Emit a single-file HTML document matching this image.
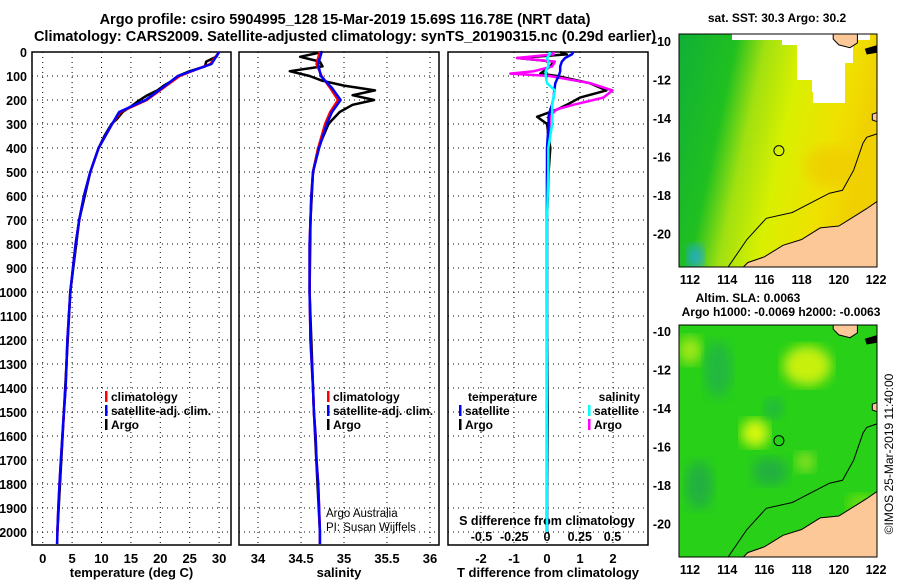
<!DOCTYPE html>
<html><head><meta charset="utf-8"><style>
body{margin:0;background:#fff;}
svg{display:block;font-family:"Liberation Sans",sans-serif;font-weight:bold;}
</style></head><body>
<svg id="c" width="900" height="580" viewBox="0 0 900 580">
<text x="345" y="24" font-size="14.5" text-anchor="middle">Argo profile: csiro 5904995_128 15-Mar-2019 15.69S 116.78E (NRT data)</text>
<text x="345" y="41" font-size="14.5" text-anchor="middle">Climatology: CARS2009. Satellite-adjusted climatology: synTS_20190315.nc (0.29d earlier)</text>
<g id="g"></g>
</svg>
<script>
const depthTicks=[0,100,200,300,400,500,600,700,800,900,1000,1100,1200,1300,1400,1500,1600,1700,1800,1900,2000];
const tempTicks=[0,5,10,15,20,25,30];
const salTicks=[34,34.5,35,35.5,36];
const tdTicks=[-2,-1,0,1,2];
const sdTicks=[-0.5,-0.25,0,0.25,0.5];
const sdTickLabels=["-0.5","-0.25","0","0.25","0.5"];
const climDepth=[0,50,100,150,200,250,300,400,500,600,700,800,1000,1200,1400,1500,1600,1700,1800,1900,2000,2050];
const climTemp=[30,28.5,23.3,20.5,17.7,13.2,11.8,9.5,8.1,7.0,6.2,5.6,4.7,4.2,3.9,3.6,3.35,3.1,2.85,2.65,2.5,2.45];
const satTemp=[30,28.7,23.0,20.3,17.5,13.0,11.8,9.5,8.1,7.0,6.2,5.6,4.7,4.2,3.9,3.6,3.35,3.1,2.85,2.65,2.5,2.45];
const argoDepth=[0,20,40,60,80,100,120,140,160,180,200,220,250,280,300,350,400,500,700,1000,1500,2000];
const argoTemp=[30,29.5,27.8,27.6,25,23,22,20.6,19.5,17.8,16.5,15.4,13.6,12.6,11.7,10.5,9.5,8.1,6.2,4.7,3.6,2.5];
const climSal=[34.72,34.68,34.74,34.84,34.93,34.84,34.78,34.70,34.64,34.62,34.61,34.60,34.60,34.61,34.64,34.65,34.67,34.68,34.70,34.71,34.72,34.72];
const satSal=[34.74,34.70,34.73,34.86,34.96,34.86,34.80,34.71,34.64,34.62,34.61,34.60,34.60,34.61,34.64,34.65,34.67,34.68,34.70,34.71,34.72,34.72];
const argoSal=[34.75,34.49,34.72,34.75,34.37,34.6,34.75,35.0,35.36,35.1,35.35,35.1,34.95,34.87,34.82,34.76,34.70,34.64,34.61,34.60,34.65,34.72];
const dDepth=[0,10,25,40,60,80,90,100,130,160,190,220,240,270,300,400,500,700,1000,1500,2000];
const tSatDiff=[0.8,0.75,0.55,0.45,0.4,0.4,0.38,0.35,0.25,0.22,0.2,0.15,0.1,0.05,0.05,0,0,0,0,0,0];
const tArgoDiff=[0.4,0.6,-0.9,0.2,0.1,-0.1,-0.2,0.3,1.3,1.8,1.0,0.6,0.3,-0.3,0,0.1,0.05,0,0,0.02,0];
const sSatDiff=[0.02,0.02,0.0,0.01,0.01,-0.01,-0.01,-0.01,0.0,0.06,0.05,0.04,0.04,0.04,0.04,0.01,0.01,0,0,0,0];
const sArgoDiff=[0.05,0.05,-0.23,0.06,0.04,-0.1,-0.28,0.02,0.33,0.5,0.43,0.2,0.07,0.02,0.02,0.01,0,0,0,0,0];
const mapLonTicks=[112,114,116,118,120,122];
const mapLatTicks=[-10,-12,-14,-16,-18,-20];
const floatLon=116.78, floatLat=-15.69;

const NS="http://www.w3.org/2000/svg";
const G=document.getElementById('g');
function el(t,a,p){const e=document.createElementNS(NS,t);for(const k in a)e.setAttribute(k,a[k]);(p||G).appendChild(e);return e;}
const pTop=52,pBot=545;
const yD=d=>pTop+d*0.24;
function panel(x0,x1,name,xs,xt,xl,title){
  const r=el('rect',{x:x0,y:pTop,width:x1-x0,height:pBot-pTop,fill:'none',stroke:'#000','stroke-width':1.5});
  
  
  depthTicks.forEach(d=>{
    const l=el('line',{x1:x0,x2:x1,y1:yD(d),y2:yD(d),stroke:'#000','stroke-dasharray':'1,4'});
    
    
  });
  xt.forEach((v,i)=>{
    const X=xs(v);
    const l=el('line',{x1:X,x2:X,y1:pTop,y2:pBot,stroke:'#000','stroke-dasharray':'1,4'});
    
    
    const t=el('text',{x:X,y:563,'font-size':13,'text-anchor':'middle'});t.textContent=xl[i];
    
    
  });
  const t=el('text',{x:(x0+x1)/2,y:577,'font-size':13,'text-anchor':'middle'});t.textContent=title;
  
  
}
function line(xs,xv,dv,color,w,name){
  const pts=xv.map((v,i)=>xs(v).toFixed(1)+','+yD(dv[i]).toFixed(1)).join(' ');
  const p=el('polyline',{points:pts,fill:'none',stroke:color,'stroke-width':w,'stroke-linejoin':'round'});
  
  
}
function txt(x,y,s,fs,name,anchor,weight){const t=el('text',{x:x,y:y,'font-size':fs,'text-anchor':anchor||'start','font-weight':weight||'bold'});t.textContent=s;
  
  return t;}
function legend(x,y,color,label){
  const r=el('rect',{x:x,y:y-10,width:2.5,height:11,fill:color});
  
  
  txt(x+6,y,label,12,'legend-entry');
}
depthTicks.forEach(d=>{txt(27,yD(d)+5,String(d),12.5,'depth-tick-label','end');});
const xT=v=>42.7+v*5.88;
panel(32,231,'temperature-panel',xT,tempTicks,tempTicks.map(String),'temperature (deg C)');
line(xT,argoTemp,argoDepth,'#000',2.5,'argo-temperature-line');
line(xT,climTemp,climDepth,'#f00',2.5,'climatology-temperature-line');
line(xT,satTemp,climDepth,'#00f',2.5,'satellite-temperature-line');
legend(105,401,'#f00','climatology');legend(105,415,'#00f','satellite-adj. clim.');legend(105,429,'#000','Argo');
const xS=v=>258+(v-34)*86;
panel(239,439,'salinity-panel',xS,salTicks,salTicks.map(String),'salinity');
line(xS,argoSal,argoDepth,'#000',2.5,'argo-salinity-line');
line(xS,climSal,climDepth,'#f00',2.5,'climatology-salinity-line');
line(xS,satSal,climDepth,'#00f',2.5,'satellite-salinity-line');
legend(327,401,'#f00','climatology');legend(327,415,'#00f','satellite-adj. clim.');legend(327,429,'#000','Argo');
txt(326,517,'Argo Australia',11.5,'credit-argo-australia','start','normal');
txt(326,531,'PI: Susan Wijffels',11.5,'credit-pi','start','normal');
const xTd=v=>547+v*33, xSd=v=>547+v*131;
panel(448,648,'difference-panel',xTd,tdTicks,tdTicks.map(String),'T difference from climatology');
sdTicks.forEach((v,i)=>{txt(xSd(v),541,sdTickLabels[i],12.5,'s-diff-tick-label','middle');});
txt(547,525,'S difference from climatology',12.5,'s-diff-axis-title','middle');
line(xTd,tArgoDiff,dDepth,'#000',2.5,'argo-temperature-diff-line');
line(xSd,sArgoDiff,dDepth,'#f0f',2.5,'argo-salinity-diff-line');
line(xTd,tSatDiff,dDepth,'#00f',2.5,'satellite-temperature-diff-line');
line(xSd,sSatDiff,dDepth,'#0ff',2.5,'satellite-salinity-diff-line');
txt(468,401,'temperature',12,'legend-title-temperature');
txt(640,401,'salinity',12,'legend-title-salinity','end');
legend(459,415,'#00f','satellite');legend(459,429,'#000','Argo');
legend(588,415,'#0ff','satellite');legend(588,429,'#f0f','Argo');
const defs=el('defs',{});
defs.innerHTML='<linearGradient id="sst" x1="0" x2="1" y1="0" y2="0.25"><stop offset="0" stop-color="#10b038"/><stop offset="0.28" stop-color="#20c020"/><stop offset="0.42" stop-color="#a0e010"/><stop offset="0.6" stop-color="#d8f000"/><stop offset="0.85" stop-color="#f0e000"/><stop offset="1" stop-color="#f0d000"/></linearGradient><filter id="bl"><feGaussianBlur stdDeviation="6"/></filter><clipPath id="m1"><rect x="679" y="34" width="198" height="233"/></clipPath><clipPath id="m2"><rect x="679" y="325" width="198" height="232"/></clipPath>';
function map(y0,name,clip){
  const lx=lon=>690+(lon-112)*18.6, ly=lat=>y0+(-10-lat)*19.27;
  const P=arr=>arr.map(p=>lx(p[0]).toFixed(1)+','+ly(p[1]).toFixed(1)).join(' ');
  const gg=el('g',{'clip-path':'url(#'+clip+')'});
  
  
  const bgTop=clip==='m1'?34:325;
  if(clip==='m1'){
    el('rect',{x:679,y:bgTop,width:198,height:233,fill:'url(#sst)'},gg);
    el('ellipse',{cx:lx(119.5),cy:ly(-20.4),rx:16,ry:7,fill:'#e89000',filter:'url(#bl)'},gg);
    el('ellipse',{cx:lx(119.5),cy:ly(-16.5),rx:25,ry:20,fill:'#f0c800',filter:'url(#bl)',opacity:0.6},gg);
    el('ellipse',{cx:lx(112.3),cy:ly(-21.2),rx:8,ry:12,fill:'#20a8e0',filter:'url(#bl)'},gg);
    el('polygon',{points:'732,33 797,33 797,45 782,45 782,40 732,40',fill:'#fff'},gg);
    el('polygon',{points:'797,33 870,33 870,40 853,40 853,63 845,63 845,103 813,103 813,92 812,92 812,80 797,80',fill:'#fff'},gg);
  } else {
    el('rect',{x:679,y:bgTop,width:198,height:232,fill:'#28d018'},gg);
    [[118.3,-11.8,24,20,'#c8f010'],[115.5,-15.3,14,14,'#d8f810'],[112,-11,12,14,'#a0e818'],[118.2,-16.8,10,10,'#88e020'],[121.2,-19,14,10,'#70e010'],[113.5,-12,14,28,'#20b840'],[112.5,-18,14,24,'#20b040'],[116.5,-14,10,10,'#20b840'],[116.3,-17.3,18,14,'#20b040']].forEach(b=>{
      el('ellipse',{cx:lx(b[0]),cy:ly(b[1]),rx:b[2],ry:b[3],fill:b[4],filter:'url(#bl)'},gg);
    });
  }
  const land=[[114.7,-21.9],[115.1,-21.5],[116,-21.2],[117,-20.6],[118,-20.3],[118.5,-20.0],[119,-19.7],[120,-19.6],[121,-19.0],[121.5,-18.7],[122.1,-18.3],[122.1,-21.9]];
  el('polygon',{points:P(land),fill:'#fcc898',stroke:'#000','stroke-width':1},gg);
  el('polygon',{points:P([[119.7,-9.6],[121,-9.6],[121,-10.1],[120.6,-10.35],[120,-10.2],[119.7,-9.9]]),fill:'#fcc898',stroke:'#000','stroke-width':1},gg);
  el('polygon',{points:P([[121.4,-10.4],[122.1,-10.2],[122.1,-10.6],[121.5,-10.7]]),fill:'#000'},gg);
  el('polygon',{points:P([[121.8,-13.8],[122.1,-13.7],[122.1,-14.2],[121.8,-14.1]]),fill:'#fcc898',stroke:'#000','stroke-width':1},gg);
  const shelf=[[114,-21.8],[115.06,-20.3],[116.1,-19.2],[117.5,-18.9],[119.5,-17.9],[120.2,-17.75],[120.8,-16.7],[121.3,-15.3],[121.5,-15],[122.1,-14.8]];
  el('polyline',{points:P(shelf),fill:'none',stroke:'#000','stroke-width':1},gg);
  const fr=el('rect',{x:679,y:bgTop,width:198,height:clip==='m1'?233:232,fill:'none',stroke:'#000','stroke-width':1});
  
  
  const c=el('circle',{cx:lx(floatLon),cy:ly(floatLat),r:5,fill:'none',stroke:'#000','stroke-width':1});
  
  
  mapLatTicks.forEach(v=>{txt(671,ly(v)+5,String(v),12.5,'map-lat-tick-label','end');});
  const by=(clip==='m1'?267:557);
  mapLonTicks.forEach(v=>{txt(lx(v),by+17,String(v),12.5,'map-lon-tick-label','middle');});
}
map(41,'sst-map','m1');
map(331,'sla-map','m2');
txt(777,22,'sat. SST: 30.3 Argo: 30.2',12,'sst-map-title','middle');
txt(748,302,'Altim. SLA: 0.0063',12,'sla-map-title','middle');
txt(781,316,'Argo h1000: -0.0069 h2000: -0.0063',12,'sla-map-subtitle','middle');
const im=txt(0,0,'©IMOS 25-Mar-2019 11:40:00',12,'imos-timestamp','middle','normal');
im.setAttribute('transform','translate(893,454) rotate(-90)');
</script>
</body></html>
